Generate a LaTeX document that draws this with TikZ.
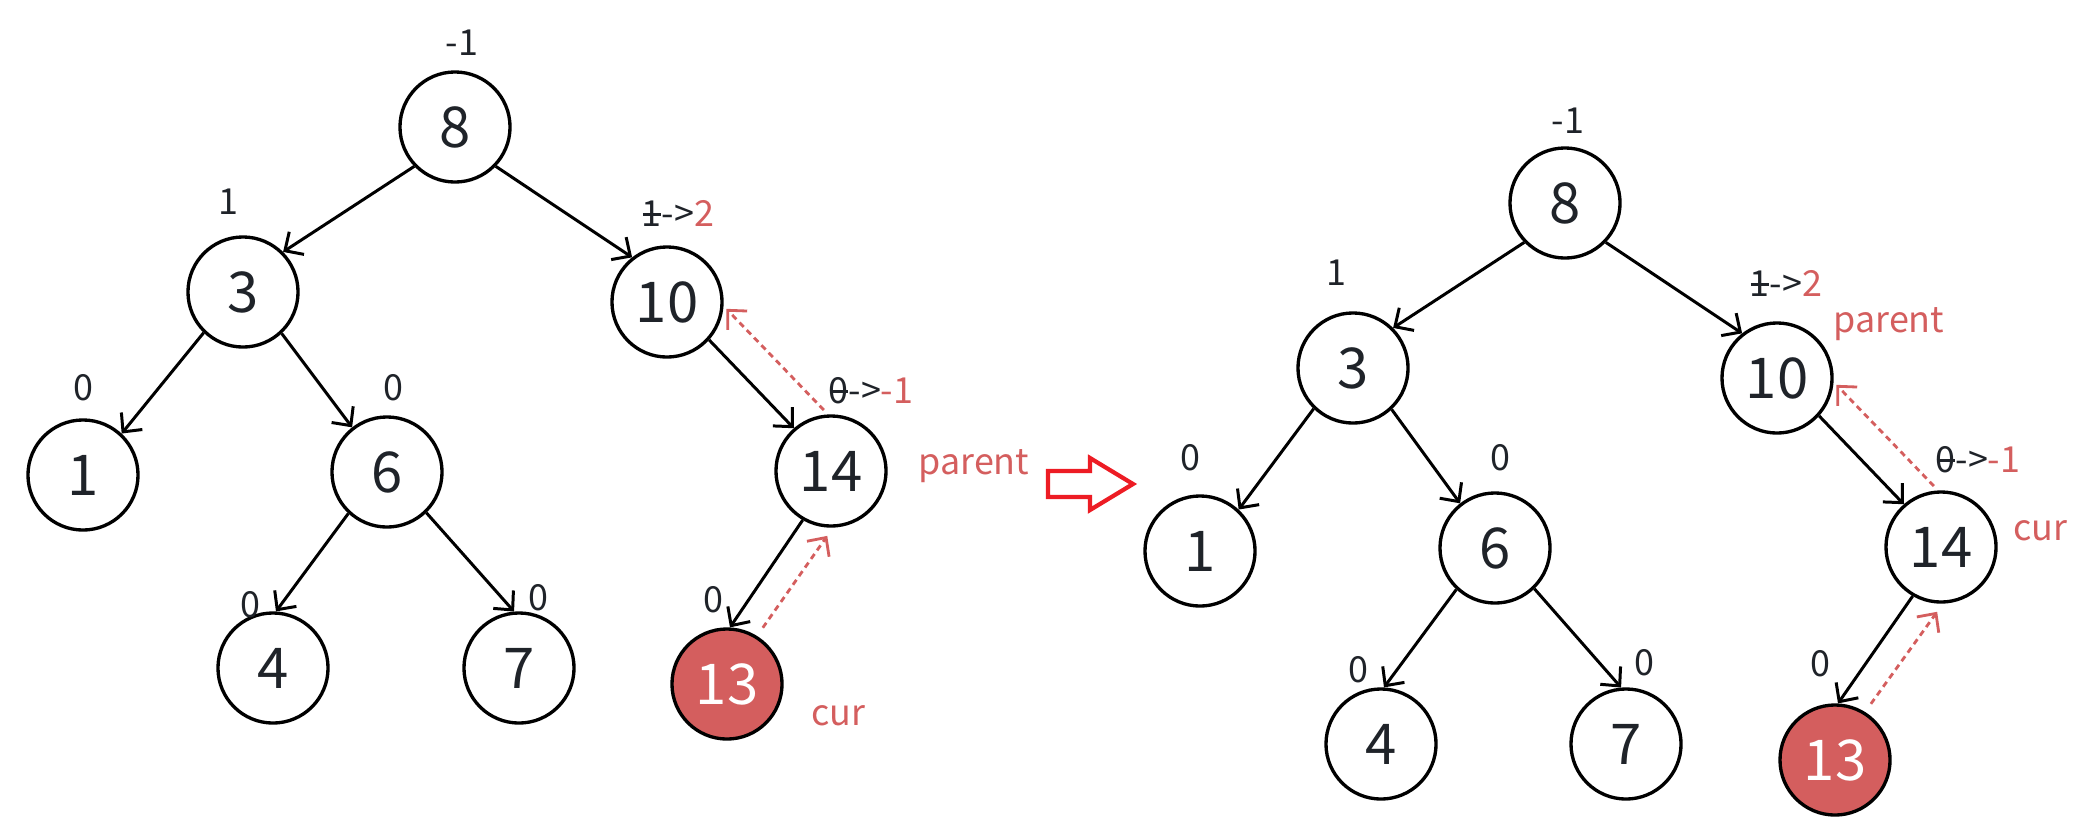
\documentclass[tikz,border=0pt]{standalone}
\usepackage{fontspec}
\setmainfont{Noto Sans CJK SC}
\usetikzlibrary{arrows.meta}
\definecolor{ink}{RGB}{31,35,41}
\definecolor{hlred}{RGB}{212,94,94}
\definecolor{bigred}{RGB}{237,28,36}
% struck-out digit
\newcommand{\strk}[1]{\ooalign{#1\cr\hidewidth\rule[0.28em]{0.5em}{0.08em}\hidewidth\cr}}
\tikzset{
  tnode/.style={circle, draw=black, line width=0.95pt, minimum size=1.1cm, inner sep=0pt,
    font=\fontsize{16}{18}\selectfont, text=ink},
  curnode/.style={tnode, fill=hlred, text=white},
  bal/.style={font=\fontsize{10.2}{12}\selectfont, text=ink, inner sep=0pt},
  tag/.style={font=\fontsize{10.2}{12}\selectfont, text=hlred, inner sep=0pt},
  link/.style={line width=0.85pt, -{Straight Barb[length=1.4mm,width=2.7mm]}},
  uplink/.style={hlred, line width=0.8pt, dash pattern=on 0.6mm off 0.45mm,
    -{Straight Barb[length=1.4mm,width=2.7mm]}},
}
\begin{document}
\begin{tikzpicture}[x=0.01cm, y=-0.01cm]
    \useasboundingbox (0,0) rectangle (2092,830);
    % Left tree: nodes
    \node[tnode] (l8) at (455,127) {8};
    \node[tnode] (l3) at (243,292) {3};
    \node[tnode] (l10) at (667,302) {10};
    \node[tnode] (l1) at (83,475) {1};
    \node[tnode] (l6) at (387,472) {6};
    \node[tnode] (l14) at (831,471) {14};
    \node[tnode] (l4) at (273,668) {4};
    \node[tnode] (l7) at (519,668) {7};
    \node[curnode] (l13) at (727,684) {13};
    % Left tree: balance factors
    \node[bal] (lb8) at (462,43) {-1};
    \node[bal] (lb3) at (228,202) {1};
    \node[bal] (lb10) at (678,213) {\strk{1}->\textcolor{hlred}{2}};
    \node[bal] (lb1) at (83,388) {0};
    \node[bal] (lb6) at (393,388) {0};
    \node[bal] (lb14) at (871,390) {\strk{0}->\textcolor{hlred}{-1}};
    \node[bal] (lb4) at (250,605) {0};
    \node[bal] (lb7) at (538,598) {0};
    \node[bal] (lb13) at (713,600) {0};
    \node[tag] (lpar) at (974,466) {parent};
    \node[tag] (lcur) at (838,716) {cur};
    % Left tree: edges
    \draw[link] (l8.224) -- (l3.45);
    \draw[link] (l8.-44) -- (l10.128);
    \draw[link] (l3.226) -- (l1.47);
    \draw[link] (l3.-47) -- (l6.128);
    \draw[link] (l6.227) -- (l4.87);
    \draw[link] (l6.-46) -- (l7.95);
    \draw[link] (l10.-42) -- (l14.131);
    \draw[link] (l14.-120) -- (l13.87);
    % Left tree: walking back up
    \draw[uplink, shorten <=1mm, shorten >=1mm] (l13.58) -- (l14.-88);
    \draw[uplink, shorten <=0.6mm, shorten >=0.4mm] (l14.93) -- (l10.-4);
    % Step arrow
    \draw[bigred, line width=1.2pt, fill=white, line join=miter]
      (1048,471) -- (1090,471) -- (1090,458) -- (1133,484) -- (1090,510)
      -- (1090,497) -- (1048,497) -- cycle;
    % Right tree
    \begin{scope}[shift={(1110,76)}]
    \node[tnode] (r8) at (455,127) {8};
    \node[tnode] (r3) at (243,292) {3};
    \node[tnode] (r10) at (667,302) {10};
    \node[tnode] (r1) at (90,475) {1};
    \node[tnode] (r6) at (385,472) {6};
    \node[tnode] (r14) at (831,471) {14};
    \node[tnode] (r4) at (271,668) {4};
    \node[tnode] (r7) at (516,668) {7};
    \node[curnode] (r13) at (725,684) {13};
    % Right tree: balance factors
    \node[bal] (rb8) at (458,45) {-1};
    \node[bal] (rb3) at (226,197) {1};
    \node[bal] (rb10) at (676,207) {\strk{1}->\textcolor{hlred}{2}};
    \node[bal] (rb1) at (80,382) {0};
    \node[bal] (rb6) at (390,382) {0};
    \node[bal] (rb14) at (868,383) {\strk{0}->\textcolor{hlred}{-1}};
    \node[bal] (rb4) at (248,594) {0};
    \node[bal] (rb7) at (534,587) {0};
    \node[bal] (rb13) at (710,588) {0};
    \node[tag] (rpar) at (779,248) {parent};
    \node[tag] (rcur) at (930,455) {cur};
    % Right tree: edges
    \draw[link] (r8.224) -- (r3.45);
    \draw[link] (r8.-44) -- (r10.128);
    \draw[link] (r3.226) -- (r1.47);
    \draw[link] (r3.-47) -- (r6.128);
    \draw[link] (r6.227) -- (r4.87);
    \draw[link] (r6.-46) -- (r7.95);
    \draw[link] (r10.-42) -- (r14.131);
    \draw[link] (r14.-120) -- (r13.87);
    % Right tree: walking back up
    \draw[uplink, shorten <=1mm, shorten >=1mm] (r13.58) -- (r14.-88);
    \draw[uplink, shorten <=0.6mm, shorten >=0.4mm] (r14.93) -- (r10.-4);
    \end{scope}
\end{tikzpicture}
\end{document}
